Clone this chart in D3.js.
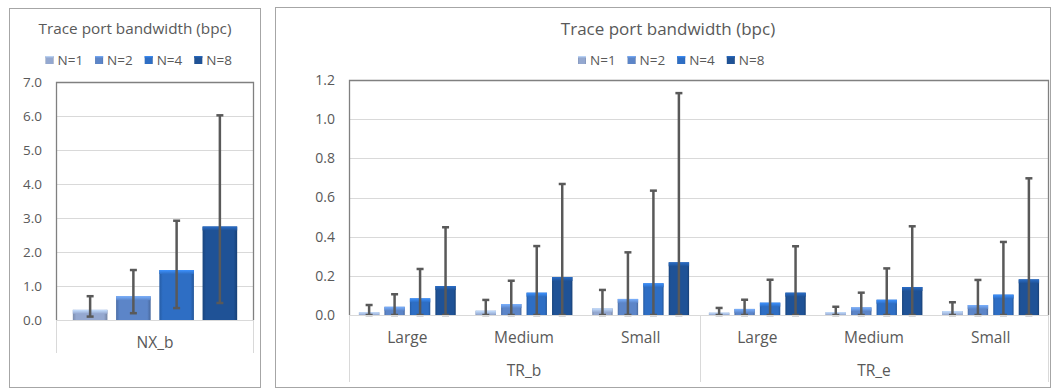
<!DOCTYPE html>
<html>
<head>
<meta charset="utf-8">
<script src="https://cdn.jsdelivr.net/npm/d3@7"></script>
<style>
  body { margin: 0; background: #fff; }
  svg text { font-family: "Open Sans", sans-serif; fill: #595959; }
</style>
</head>
<body>
<svg id="chart" width="1051" height="388"></svg>
<script>
// ---- data ----
var series = ["N=1", "N=2", "N=4", "N=8"];
var seriesColors = ["#94a8d0", "#5c85c8", "#2e6ec4", "#1f5296"];

var nxCategories = ["NX_b"];
var nxValues = [[0.30], [0.70], [1.47], [2.75]];
var nxLow    = [[0.10], [0.20], [0.35], [0.50]];
var nxHigh   = [[0.70], [1.47], [2.92], [6.02]];
var nxTicks  = [0, 1, 2, 3, 4, 5, 6, 7];

var trGroups = ["TR_b", "TR_e"];
var trSizes  = ["Large", "Medium", "Small"];
// one entry per (group, size): TR_b Large, Medium, Small, TR_e Large, Medium, Small
var trValues = [
  [0.014, 0.022, 0.034, 0.012, 0.015, 0.020],
  [0.042, 0.056, 0.082, 0.031, 0.039, 0.051],
  [0.085, 0.114, 0.162, 0.063, 0.078, 0.104],
  [0.148, 0.194, 0.269, 0.114, 0.143, 0.182]
];
var trLow = [
  [0, 0, 0, 0, 0, 0],
  [0, 0, 0, 0, 0, 0],
  [0, 0, 0, 0, 0, 0],
  [0, 0, 0, 0, 0, 0]
];
var trHigh = [
  [0.051, 0.077, 0.128, 0.036, 0.042, 0.065],
  [0.106, 0.175, 0.320, 0.078, 0.114, 0.179],
  [0.235, 0.352, 0.635, 0.180, 0.238, 0.373],
  [0.448, 0.669, 1.133, 0.351, 0.453, 0.698]
];
var trTicks = [0, 0.2, 0.4, 0.6, 0.8, 1.0, 1.2];

var titleText = "Trace port bandwidth (bpc)";

var svg = d3.select("#chart");

// bevel-ish gradients like the office bar style
var defs = svg.append("defs");
seriesColors.forEach(function(c, i) {
  var base = d3.color(c);
  var g = defs.append("linearGradient").attr("id", "side" + i)
    .attr("x1", 0).attr("x2", 1).attr("y1", 0).attr("y2", 0);
  g.append("stop").attr("offset", "0").attr("stop-color", base.darker(0.5));
  g.append("stop").attr("offset", "0.1").attr("stop-color", base);
  g.append("stop").attr("offset", "0.9").attr("stop-color", base);
  g.append("stop").attr("offset", "1").attr("stop-color", base.darker(0.7));
  var t = defs.append("linearGradient").attr("id", "top" + i)
    .attr("x1", 0).attr("x2", 0).attr("y1", 0).attr("y2", 1);
  t.append("stop").attr("offset", "0").attr("stop-color", base.brighter(0.8));
  t.append("stop").attr("offset", "1").attr("stop-color", base);
});

function drawPanel(o) {
  var panel = svg.append("g");

  panel.append("rect")
    .attr("x", o.frame[0] + 0.5).attr("y", o.frame[1] + 0.5)
    .attr("width", o.frame[2] - o.frame[0]).attr("height", o.frame[3] - o.frame[1])
    .attr("fill", "#fff").attr("stroke", "#a6a6a6");

  panel.append("text")
    .attr("x", o.center).attr("y", 29).attr("dy", "0.35em")
    .attr("text-anchor", "middle").style("font-size", o.titleSize + "px")
    .text(titleText);

  // legend
  var leg = panel.append("g").attr("transform", "translate(" + o.legendX + ",60)");
  series.forEach(function(s, i) {
    var g = leg.append("g").attr("transform", "translate(" + (i * 49.6) + ",0)");
    g.append("rect").attr("x", 0).attr("y", -4).attr("width", 8).attr("height", 8)
      .attr("fill", "url(#side" + i + ")");
    g.append("rect").attr("x", 0).attr("y", -4).attr("width", 8).attr("height", 2)
      .attr("fill", "url(#top" + i + ")");
    g.append("text").attr("x", 12).attr("y", 0).attr("dy", "0.35em")
      .style("font-size", "13.5px").text(s);
  });

  var p = o.plot;
  var y = d3.scaleLinear().domain([0, o.yMax]).range([p.bottom, p.top]);
  var x0 = d3.scaleBand().domain(o.keys).range([p.left, p.right])
    .paddingInner(0.17).paddingOuter(0.085);
  var x1 = d3.scaleBand().domain(d3.range(series.length)).range([0, x0.bandwidth()])
    .paddingInner(0.2);

  // gridlines
  panel.append("g").selectAll("line").data(o.ticks).join("line")
    .attr("x1", p.left).attr("x2", p.right)
    .attr("y1", function(d) { return Math.round(y(d)) + 0.5; })
    .attr("y2", function(d) { return Math.round(y(d)) + 0.5; })
    .attr("stroke", "#d9d9d9");

  // y axis labels
  var yAxis = d3.axisLeft(y).tickValues(o.ticks).tickFormat(d3.format(".1f"))
    .tickSize(0).tickPadding(14);
  var ya = panel.append("g").attr("transform", "translate(" + p.left + ",0)").call(yAxis);
  ya.select(".domain").remove();
  ya.selectAll("text").style("font-size", o.tickSize + "px").attr("fill", "#595959");

  // category row separators
  panel.append("g").selectAll("line").data(o.separators).join("line")
    .attr("x1", function(d) { return d; }).attr("x2", function(d) { return d; })
    .attr("y1", p.bottom).attr("y2", o.catBottom)
    .attr("stroke", "#d9d9d9");

  // plot border (left, top, right)
  panel.append("path")
    .attr("d", "M" + (p.left + 0.5) + "," + p.bottom + "V" + (p.top + 0.5) +
      "H" + (p.right - 0.5) + "V" + p.bottom)
    .attr("fill", "none").attr("stroke", "#808080").attr("stroke-width", 1.3);

  // bars
  series.forEach(function(s, si) {
    var g = panel.append("g");
    o.keys.forEach(function(k, ki) {
      var v = o.values[si][ki];
      var bx = x0(k) + x1(si), bw = x1.bandwidth();
      var h = y(0) - y(v);
      g.append("rect").attr("x", bx).attr("y", y(v)).attr("width", bw).attr("height", h)
        .attr("fill", "url(#side" + si + ")");
      g.append("rect").attr("x", bx).attr("y", y(v)).attr("width", bw)
        .attr("height", Math.min(4, h))
        .attr("fill", "url(#top" + si + ")");
    });
  });

  // error bars
  series.forEach(function(s, si) {
    var g = panel.append("g").attr("stroke", "#595959").attr("stroke-width", 2.5);
    o.keys.forEach(function(k, ki) {
      var cx = x0(k) + x1(si) + x1.bandwidth() / 2;
      var lo = y(o.low[si][ki]), hi = y(o.high[si][ki]);
      g.append("line").attr("x1", cx).attr("x2", cx).attr("y1", lo).attr("y2", hi);
      g.append("line").attr("x1", cx - 3.5).attr("x2", cx + 3.5).attr("y1", hi).attr("y2", hi);
      g.append("line").attr("x1", cx - 3.5).attr("x2", cx + 3.5).attr("y1", lo).attr("y2", lo);
    });
  });

  // axis line
  panel.append("line").attr("x1", p.left).attr("x2", p.right)
    .attr("y1", p.bottom + 0.5).attr("y2", p.bottom + 0.5).attr("stroke", "#d9d9d9");

  // category labels
  panel.append("g").selectAll("text").data(o.keys).join("text")
    .attr("x", function(k) { return x0(k) + x0.bandwidth() / 2; })
    .attr("y", o.catY).attr("dy", "0.35em").attr("text-anchor", "middle")
    .style("font-size", "15.5px")
    .text(function(k, i) { return o.catLabels[i]; });

  return { x0: x0, panel: panel };
}

// left chart
drawPanel({
  frame: [9, 8, 260, 387],
  center: 135, legendX: 45.5, titleSize: 15.3, tickSize: 13.5,
  plot: { left: 56, right: 254, top: 82, bottom: 320 },
  yMax: 7, ticks: nxTicks,
  keys: nxCategories, catLabels: nxCategories,
  values: nxValues, low: nxLow, high: nxHigh,
  separators: [56.5, 253.5], catBottom: 353, catY: 343
});

// right chart
var trKeys = [], trLabels = [];
trGroups.forEach(function(g) {
  trSizes.forEach(function(s) { trKeys.push(g + "|" + s); trLabels.push(s); });
});
var right = drawPanel({
  frame: [275, 7, 1050, 387],
  center: 668, legendX: 578, titleSize: 17, tickSize: 14,
  plot: { left: 349, right: 1049, top: 80, bottom: 315 },
  yMax: 1.2, ticks: trTicks,
  keys: trKeys, catLabels: trLabels,
  values: trValues, low: trLow, high: trHigh,
  separators: [349.5, 700.5, 1048.5], catBottom: 382, catY: 338
});

// group labels under the sizes
right.panel.append("g").selectAll("text").data(trGroups).join("text")
  .attr("x", function(g) {
    var first = right.x0(g + "|" + trSizes[0]);
    var last = right.x0(g + "|" + trSizes[trSizes.length - 1]) + right.x0.bandwidth();
    return (first + last) / 2;
  })
  .attr("y", 371).attr("dy", "0.35em").attr("text-anchor", "middle")
  .style("font-size", "15.5px")
  .text(function(g) { return g; });
</script>
</body>
</html>
